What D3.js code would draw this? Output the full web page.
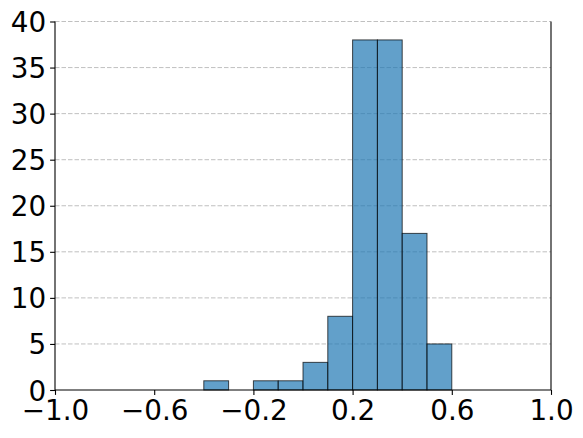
<!DOCTYPE html>
<html><head><meta charset="utf-8">
<script src="https://cdn.jsdelivr.net/npm/d3@7"></script>
<style>body{margin:0;background:#fff}svg{display:block}</style>
</head><body>
<div id="chart"></div>
<script>
const binStarts = [-0.4, -0.2, -0.1, 0.0, 0.1, 0.2, 0.3, 0.4, 0.5];
const binWidth = 0.1;
const counts = [1, 1, 1, 3, 8, 38, 38, 17, 5];
const xTicks = [-1.0, -0.6, -0.2, 0.2, 0.6, 1.0];
const yTicks = [0, 5, 10, 15, 20, 25, 30, 35, 40];

const W = 583, H = 438;
const m = {left: 55, right: 32, top: 21.5, bottom: 48};
const svg = d3.select("#chart").append("svg").attr("width", W).attr("height", H);
const x = d3.scaleLinear().domain([-1, 1]).range([m.left, W - m.right]);
const y = d3.scaleLinear().domain([0, 40]).range([H - m.bottom, m.top]);
const font = "DejaVu Sans";
const fs = 27.8;

// grid
svg.append("g").selectAll("line").data(yTicks.filter(d => d > 0)).join("line")
  .attr("x1", x(-1)).attr("x2", x(1))
  .attr("y1", d => y(d)).attr("y2", d => y(d))
  .attr("stroke", "#b0b0b0").attr("stroke-opacity", 0.8).attr("stroke-width", 1)
  .attr("stroke-dasharray", "4.5,2");

// bars
svg.append("g").selectAll("rect").data(binStarts.map((s, i) => ({s, c: counts[i]}))).join("rect")
  .attr("x", d => x(d.s)).attr("width", d => x(d.s + binWidth) - x(d.s))
  .attr("y", d => y(d.c)).attr("height", d => y(0) - y(d.c))
  .attr("fill", "#1f77b4").attr("fill-opacity", 0.7)
  .attr("stroke", "#000").attr("stroke-opacity", 0.7).attr("stroke-width", 1);

// axes
const fmt = d => d3.format(".1f")(d).replace("-", "\u2212");
const xAxis = svg.append("g").attr("transform", `translate(0,${y(0)})`)
  .call(d3.axisBottom(x).tickValues(xTicks).tickFormat(fmt).tickSize(4.9).tickPadding(4));
const yAxis = svg.append("g").attr("transform", `translate(${x(-1)},0)`)
  .call(d3.axisLeft(y).tickValues(yTicks).tickSize(4.9).tickPadding(4));
[xAxis, yAxis].forEach(a => {
  a.selectAll("text").attr("font-family", font).attr("font-size", fs).attr("fill", "#000");
  a.selectAll(".tick line").attr("stroke", "#000").attr("stroke-width", 1.1);
  a.select(".domain").remove();
});
yAxis.selectAll("text").attr("dy", "0.36em");
xAxis.selectAll("text").attr("dy", "0.76em");

// spines
const sp = svg.append("g").attr("stroke", "#000").attr("stroke-width", 1.1);
sp.append("line").attr("x1", x(-1)).attr("x2", x(-1)).attr("y1", y(0)).attr("y2", y(40));
sp.append("line").attr("x1", x(1)).attr("x2", x(1)).attr("y1", y(0)).attr("y2", y(40));
sp.append("line").attr("x1", x(-1)).attr("x2", x(1)).attr("y1", y(0)).attr("y2", y(0));
</script>
</body></html>
